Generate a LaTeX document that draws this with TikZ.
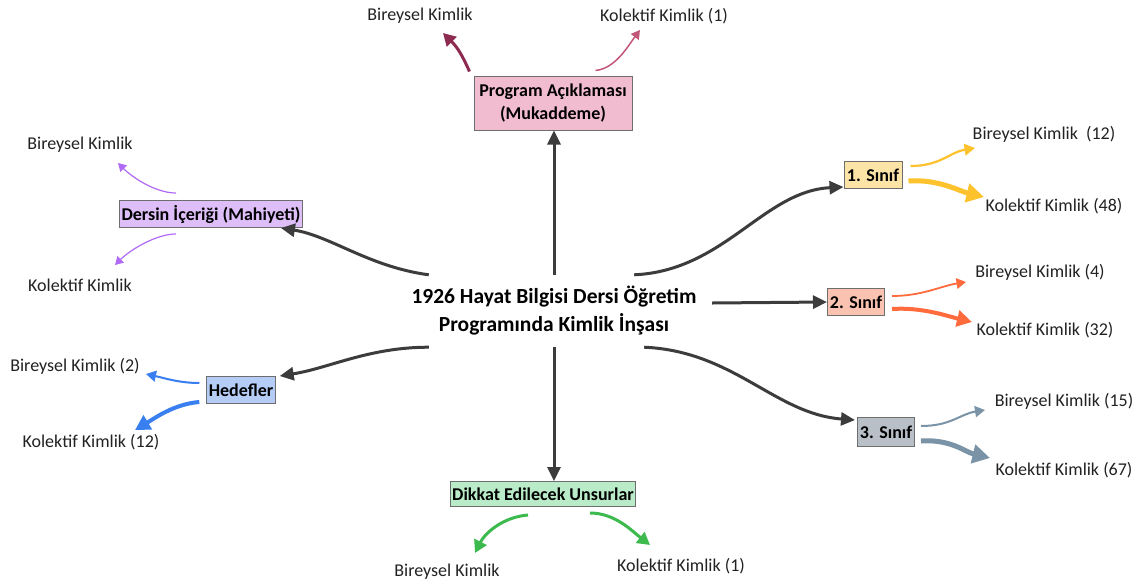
\documentclass[tikz,border=0pt]{standalone}
\usepackage{fontspec}
\setmainfont{Carlito}
\usetikzlibrary{arrows.meta,positioning}

\definecolor{mainarrow}{HTML}{3C3C3C}
\definecolor{boxline}{HTML}{6E6E6E}
\definecolor{lbltext}{HTML}{222222}
\definecolor{progfill}{HTML}{F2BCD0}
\definecolor{progdark}{HTML}{8E2B50}
\definecolor{proglight}{HTML}{C2577A}
\definecolor{dersfill}{HTML}{DDBEF8}
\definecolor{dersline}{HTML}{B06AF5}
\definecolor{hedfill}{HTML}{B5CDF6}
\definecolor{hedline}{HTML}{3A7FF0}
\definecolor{dikfill}{HTML}{B9EBC8}
\definecolor{dikline}{HTML}{3DBA4E}
\definecolor{onefill}{HTML}{FCE3A6}
\definecolor{oneline}{HTML}{FDC22C}
\definecolor{twofill}{HTML}{FAC3B1}
\definecolor{twoline}{HTML}{FF6B3D}
\definecolor{thrfill}{HTML}{B9BFC6}
\definecolor{thrline}{HTML}{7A93A6}

\begin{document}
\begin{tikzpicture}[x=1pt,y=-1pt,
    box/.style={draw=boxline,line width=1pt,inner xsep=2pt,inner ysep=2pt,
      minimum height=27pt,font=\fontsize{18}{23}\selectfont\bfseries,align=center},
    lbl/.style={text=lbltext,inner sep=0pt,font=\fontsize{18}{22}\selectfont},
    mainline/.style={draw=mainarrow,line width=3pt,
      -{Triangle[length=14pt,width=13pt]}},
    twig/.style={line width=#1,-{Triangle[length=5pt 2.5,width=6pt 2.5]}}
  ]
  \useasboundingbox[fill=white] (0,0) rectangle (1144,584);

  % centre
  \node[minimum width=300,minimum height=72,inner sep=0pt,align=center,
    font=\fontsize{21.5}{28}\selectfont\bfseries] (main) at (554,311)
    {1926 Hayat Bilgisi Dersi Öğretim\\Programında Kimlik İnşası};

  % boxes
  \node[box,fill=progfill,minimum width=158pt,minimum height=54pt] (prog) at (553,103)
    {Program Açıklaması\\(Mukaddeme)};
  \node[box,fill=dersfill,minimum width=182pt] (ders) at (211,214) {Dersin İçeriği (Mahiyeti)};
  \node[box,fill=hedfill,minimum width=68pt] (hedef) at (241,390) {Hedefler};
  \node[box,fill=dikfill,minimum width=161pt,minimum height=25pt] (dikkat) at (543,494)
    {Dikkat Edilecek Unsurlar};
  \node[box,fill=onefill,minimum width=58pt] (s1) at (873,175) {1. Sınıf};
  \node[box,fill=twofill,minimum width=57pt] (s2) at (856,302) {2. Sınıf};
  \node[box,fill=thrfill,minimum width=57pt,minimum height=29pt] (s3) at (886,432) {3. Sınıf};

  % labels
  \node[lbl] (pB) at (420,16) {Bireysel Kimlik};
  \node[lbl] (pK) at (664,16) {Kolektif Kimlik (1)};
  \node[lbl] (dB) at (80,145) {Bireysel Kimlik};
  \node[lbl] (dK) at (80,285) {Kolektif Kimlik};
  \node[lbl] (hB) at (75,366) {Bireysel Kimlik (2)};
  \node[lbl] (hK) at (91,442) {Kolektif Kimlik (12)};
  \node[lbl] (uB) at (447,572) {Bireysel Kimlik};
  \node[lbl] (uK) at (681,566) {Kolektif Kimlik (1)};
  \node[lbl] (s1B) at (1044,134) {Bireysel Kimlik\ \ (12)};
  \node[lbl] (s1K) at (1054,206) {Kolektif Kimlik (48)};
  \node[lbl] (s2B) at (1040,272) {Bireysel Kimlik (4)};
  \node[lbl] (s2K) at (1045,330) {Kolektif Kimlik (32)};
  \node[lbl] (s3B) at (1064,401) {Bireysel Kimlik (15)};
  \node[lbl] (s3K) at (1064,470) {Kolektif Kimlik (67)};

  % arrow tips
  \coordinate (pBtip) at (443,33);
  \coordinate (pKtip) at (640,30);
  \coordinate (dBtip) at (118,163);
  \coordinate (dKtip) at (115,265);
  \coordinate (hBtip) at (146,374);
  \coordinate (hKtip) at (135,430);
  \coordinate (uBtip) at (475,553);
  \coordinate (uKtip) at (650,545);
  \coordinate (s1Btip) at (975,148);
  \coordinate (s1Ktip) at (984,197);
  \coordinate (s2Btip) at (966,282);
  \coordinate (s2Ktip) at (972,322);
  \coordinate (s3Btip) at (985,410);
  \coordinate (s3Ktip) at (990,458);

  % main arrows
  \draw[mainline] (main.north) -- (main.north |- prog.south);
  \draw[mainline] (main.south) -- (main.south |- dikkat.north);
  \draw[mainline] ([xshift=25pt]main.north west)
    .. controls +(-60,-8) and +(50,8) .. ([xshift=-22pt]ders.south east);
  \draw[mainline] ([xshift=25pt]main.south west)
    .. controls +(-60,0) and +(50,-8) .. ([xshift=4pt]hedef.north east);
  \draw[mainline] ([xshift=-70pt]main.north east)
    .. controls +(90,-4) and +(-80,4) .. ([yshift=2pt]s1.south west);
  \draw[mainline] ([xshift=8pt,yshift=8pt]main.east) -- (s2.west);
  \draw[mainline] ([xshift=-60pt]main.south east)
    .. controls +(90,4) and +(-80,-6) .. ([xshift=-2pt,yshift=-3pt]s3.north west);

  % program
  \draw[progdark,twig=3pt] ([xshift=-4pt,yshift=4pt]prog.north west)
    .. controls +(-8,-18) and +(14,14) .. (pBtip);
  \draw[proglight,twig=1.5pt] ([xshift=-37pt,yshift=5pt]prog.north east)
    .. controls +(20,-2) and +(-12,16) .. (pKtip);
  % dersin icerigi
  \draw[dersline,twig=1.2pt] ([xshift=-35pt,yshift=7pt]ders.north)
    .. controls +(-20,0) and +(15,15) .. (dBtip);
  \draw[dersline,twig=1.2pt] ([xshift=-35pt,yshift=-6pt]ders.south)
    .. controls +(-20,0) and +(15,-15) .. (dKtip);
  % hedefler
  \draw[hedline,twig=2pt] ([xshift=-7pt,yshift=7pt]hedef.west)
    .. controls +(-20,0) and +(18,4) .. (hBtip);
  \draw[hedline,twig=4pt] ([xshift=-7pt,yshift=-12pt]hedef.west)
    .. controls +(-25,2) and +(20,-12) .. (hKtip);
  % dikkat edilecek unsurlar
  \draw[dikline,twig=3pt] ([xshift=-15pt,yshift=-8pt]dikkat.south)
    .. controls +(-25,2) and +(10,-20) .. (uBtip);
  \draw[dikline,twig=3pt] ([xshift=47pt,yshift=-6pt]dikkat.south)
    .. controls +(25,0) and +(-18,-14) .. (uKtip);
  % siniflar
  \draw[oneline,twig=2.2pt] ([xshift=8pt,yshift=9pt]s1.east)
    .. controls +(30,0) and +(-25,4) .. (s1Btip);
  \draw[oneline,twig=5pt] ([xshift=6pt,yshift=-6pt]s1.east)
    .. controls +(30,-2) and +(-25,-6) .. (s1Ktip);
  \draw[twoline,twig=1.8pt] ([xshift=7pt,yshift=6pt]s2.east)
    .. controls +(30,0) and +(-25,4) .. (s2Btip);
  \draw[twoline,twig=4pt] ([xshift=7pt,yshift=-7pt]s2.east)
    .. controls +(30,-2) and +(-25,-6) .. (s2Ktip);
  \draw[thrline,twig=2pt] ([xshift=6pt,yshift=6pt]s3.east)
    .. controls +(30,0) and +(-25,4) .. (s3Btip);
  \draw[thrline,twig=5pt] ([xshift=6pt,yshift=-9pt]s3.east)
    .. controls +(30,-2) and +(-25,-6) .. (s3Ktip);
\end{tikzpicture}
\end{document}
